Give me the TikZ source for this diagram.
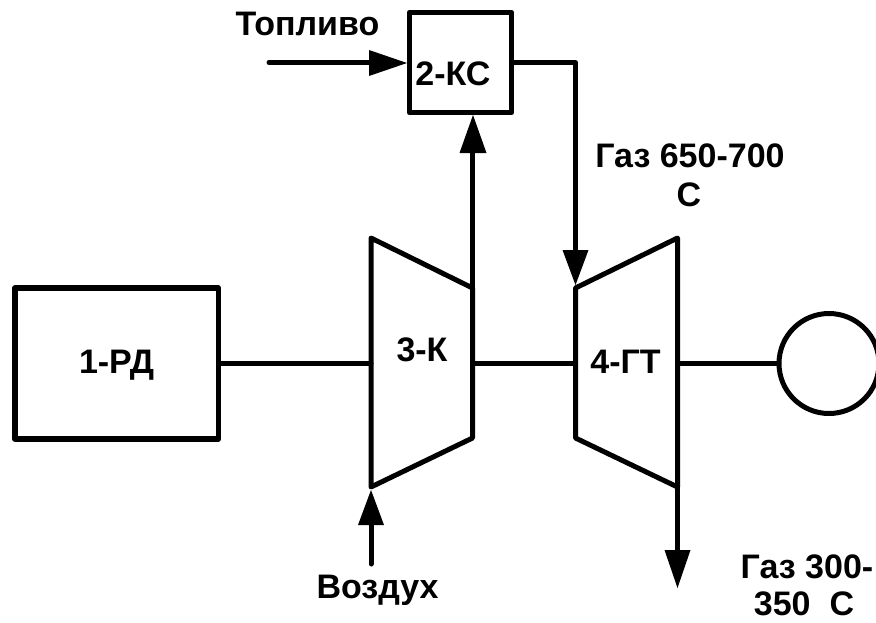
\documentclass[tikz,border=0pt]{standalone}
\usepackage{fontspec}
\setmainfont{Liberation Sans}
\begin{document}
\begin{tikzpicture}[x=1pt,y=-1pt,
  ln/.style={line width=5pt,line join=round,line cap=round},
  boxs/.style={draw,line width=5.5pt,line join=round,inner sep=0pt},
  base/.style={font=\fontsize{34}{40}\selectfont\bfseries,inner sep=0pt,anchor=base},
  tip/.style={fill=black,draw=none}]
\useasboundingbox (0,0) rectangle (876,622);
\node[boxs,minimum width=203.5pt,minimum height=151pt] (rd) at (116.5,363.5) {};
\node[base] (rdt) at (116.5,373) {1-РД};
\node[boxs,minimum width=102pt,minimum height=100pt] (ks) at (460.5,62.5) {};
\node[base] (kst) at (453,85) {2-КС};
\node[boxs,line width=5pt,circle,minimum size=100pt] (gen) at (829,363.5) {};
% compressor
\coordinate (k1) at (371,238);
\coordinate (k2) at (472.5,288);
\coordinate (k3) at (472.5,438);
\coordinate (k4) at (371,487);
\draw[ln] (k1) -- (k2) -- (k3) -- (k4) -- cycle;
\node[base] (kt) at (422,361) {3-К};
% turbine
\coordinate (t1) at (575.5,288);
\coordinate (t2) at (677.5,238);
\coordinate (t3) at (677.5,487);
\coordinate (t4) at (575.5,438);
\draw[ln] (t1) -- (t2) -- (t3) -- (t4) -- cycle;
\node[base] (tt) at (625.5,373) {4-ГТ};
\coordinate (kL) at (371,363.5);
\coordinate (kR) at (472.5,363.5);
\coordinate (tL) at (575.5,363.5);
\coordinate (tR) at (677.5,363.5);
\draw[ln] (rd.east) -- (kL);
\draw[ln] (kR) -- (tL);
\draw[ln] (tR) -- (gen.west);
% fuel
\coordinate (f0) at (269,62.5);
\coordinate (f1) at (375,62.5);
\draw[ln] (f0) -- (f1);
\fill[tip] (407,63) -- (369,50) -- (369,76) -- cycle;
\node[base] (fuel) at (307.5,35) {Топливо};
% compressor to KS
\coordinate (c1) at (472.5,150);
\draw[ln] (k2) -- (c1);
\fill[tip] (473,115) -- (459.5,153) -- (486.5,153) -- cycle;
% KS to turbine
\coordinate (g1) at (575.5,62.5);
\coordinate (g2) at (575.5,255);
\draw[ln] (ks.east) -- (g1) -- (g2);
\fill[tip] (575.5,285) -- (562.5,250) -- (588.5,250) -- cycle;
\node[base] (gas1) at (690,167) {Газ 650-700};
\node[base] (gas1c) at (689,206) {С};
% air
\coordinate (a0) at (371,564);
\coordinate (a1) at (371,520);
\draw[ln] (a0) -- (a1);
\fill[tip] (371,490) -- (358,525) -- (384,525) -- cycle;
\node[base] (air) at (377.5,598) {Воздух};
% exhaust
\coordinate (e1) at (677.5,555);
\draw[ln] (t3) -- (e1);
\fill[tip] (677.5,588) -- (664.5,550) -- (690.5,550) -- cycle;
\node[base] (gas2) at (807,578) {Газ 300-};
\node[base] (gas2c) at (804,615) {350\ \ С};
\end{tikzpicture}
\end{document}
